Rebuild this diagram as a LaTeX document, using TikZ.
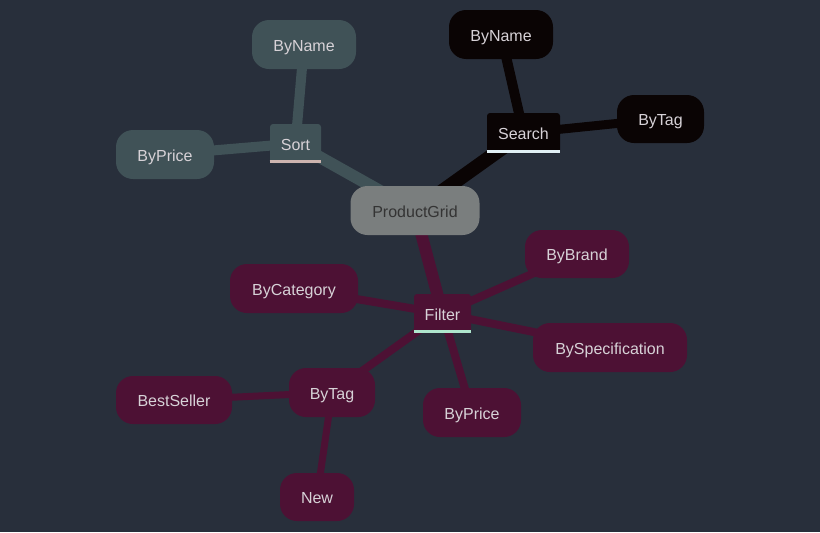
\documentclass[tikz,border=0pt]{standalone}
\usepackage{fontspec}
\setmainfont{Liberation Sans}
\usetikzlibrary{backgrounds}
\definecolor{bgc}{RGB}{40,47,59}
\definecolor{sortc}{RGB}{64,82,87}
\definecolor{searchc}{RGB}{10,4,4}
\definecolor{filterc}{RGB}{77,17,52}
\definecolor{pgc}{RGB}{122,126,126}
\definecolor{txtc}{RGB}{215,210,215}
\definecolor{pgtxt}{RGB}{52,52,52}
\definecolor{sortul}{RGB}{205,180,175}
\definecolor{searchul}{RGB}{225,240,245}
\definecolor{filterul}{RGB}{175,230,205}
\tikzset{
  x=0.75pt,y=-0.75pt,
  leaf/.style={rounded corners=12.75pt, inner sep=0pt, minimum height=36.75pt, text=txtc, font=\fontsize{12}{14}\selectfont, text height=10.2pt, text depth=0pt},
  hub/.style={rounded corners=2.25pt, inner sep=0pt, minimum height=29.25pt, text=txtc, font=\fontsize{12}{14}\selectfont, text height=10pt, text depth=0pt},
  link/.style={line cap=butt},
}
\begin{document}
\begin{tikzpicture}
\useasboundingbox (0,0) rectangle (820,532);
% nodes
\node[leaf, fill=pgc, text=pgtxt, minimum width=96.75pt] (pg) at (415,210.5) {ProductGrid};
% sort
\node[hub, fill=sortc, minimum width=38.25pt] (sort) at (295.5,143.5) {Sort};
\node[leaf, fill=sortc, minimum width=78pt] (sname) at (304,44.5) {ByName};
\node[leaf, fill=sortc, minimum width=73.5pt] (sprice) at (165,154.5) {ByPrice};
% search
\node[hub, fill=searchc, minimum width=54.75pt, minimum height=30pt] (search) at (523.5,133) {Search};
\node[leaf, fill=searchc, minimum width=78pt] (qname) at (501,34.5) {ByName};
\node[leaf, fill=searchc, minimum width=65.25pt, minimum height=36pt] (qtag) at (660.5,119) {ByTag};
% filter
\node[hub, fill=filterc, minimum width=42.75pt] (filter) at (442.5,313.5) {Filter};
\node[leaf, fill=filterc, minimum width=78pt, minimum height=36pt] (fbrand) at (577,254) {ByBrand};
\node[leaf, fill=filterc, minimum width=96pt] (fcat) at (294,288.5) {ByCategory};
\node[leaf, fill=filterc, minimum width=115.5pt] (fspec) at (610,347.5) {BySpecification};
\node[leaf, fill=filterc, minimum width=73.5pt] (fprice) at (472,412.5) {ByPrice};
\node[leaf, fill=filterc, minimum width=64.5pt] (ftag) at (332,392.5) {ByTag};
\node[leaf, fill=filterc, minimum width=87pt, minimum height=36pt] (best) at (174,400) {BestSeller};
\node[leaf, fill=filterc, minimum width=55.5pt, minimum height=36pt] (new) at (317,497) {New};
% underlines
\draw[sortul, line width=2.25pt] ([yshift=1.1pt]sort.south west) -- ([yshift=1.1pt]sort.south east);
\draw[searchul, line width=2.25pt] ([yshift=1.1pt]search.south west) -- ([yshift=1.1pt]search.south east);
\draw[filterul, line width=2.25pt] ([yshift=1.1pt]filter.south west) -- ([yshift=1.1pt]filter.south east);
% edges
\begin{scope}[on background layer]
\fill[bgc] (0,0) rectangle (820,532);
\draw[link, sortc, line width=7.5pt] (sort.center) -- (sname.center);
\draw[link, sortc, line width=7.5pt] (sort.center) -- (sprice.center);
\draw[link, sortc, line width=9pt] (sort.center) -- (pg.center);
\draw[link, searchc, line width=10.5pt] (search.center) -- (pg.center);
\draw[link, searchc, line width=7.5pt] (search.center) -- (qname.center);
\draw[link, searchc, line width=6.75pt] (search.center) -- (qtag.center);
\draw[link, filterc, line width=9pt] (pg.center) -- (filter.center);
\draw[link, filterc, line width=6pt] (filter.center) -- (fbrand.center);
\draw[link, filterc, line width=6pt] (filter.center) -- (fcat.center);
\draw[link, filterc, line width=6pt] (filter.center) -- (fspec.center);
\draw[link, filterc, line width=6pt] (filter.center) -- (fprice.center);
\draw[link, filterc, line width=6pt] (filter.center) -- (ftag.center);
\draw[link, filterc, line width=5.25pt] (ftag.center) -- (best.center);
\draw[link, filterc, line width=5.25pt] (ftag.center) -- (new.center);
\end{scope}
\end{tikzpicture}
\end{document}
